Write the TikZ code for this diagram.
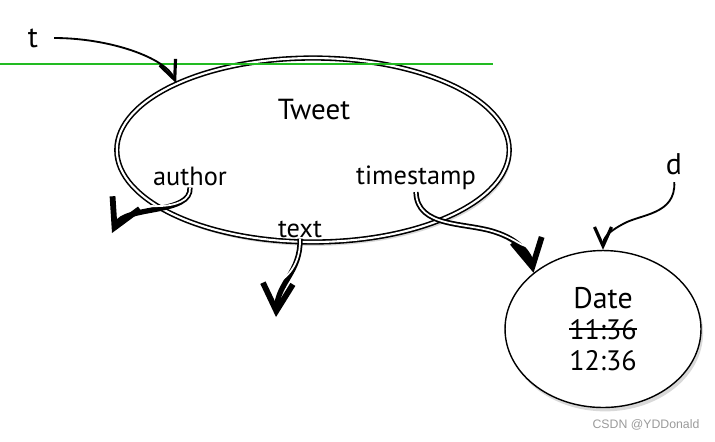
\documentclass[tikz,border=0pt]{standalone}
\usepackage{fontspec}
\setmainfont{PT Sans}
\newfontfamily\markfont{Liberation Sans}
\usetikzlibrary{arrows.meta,positioning,calc,shapes.geometric,shadows}
\definecolor{Guide}{HTML}{22BB22}
\definecolor{Mark}{HTML}{9A9A9A}
\newcommand{\crossout}[1]{\setbox0=\hbox{#1}\rlap{\rule[.33em]{\wd0}{.06em}}\box0}
\tikzset{
  entity/.style={ellipse,draw=black,fill=white,line width=.8pt,inner sep=0pt,drop shadow={opacity=.3,shadow xshift=1.2pt,shadow yshift=-2.2pt}},
  record/.style={entity,double=white,double distance=1.2pt,line width=.9pt},
  field/.style={font=\fontsize{15}{18}\selectfont,inner sep=1pt},
  varname/.style={font=\fontsize{17}{20}\selectfont,inner sep=1pt},
  pointer/.style={-{Straight Barb[length=3.8mm,width=3.4mm,line width=1.8pt]},draw=black,line width=1.05pt},
  ref/.style={-{Straight Barb[length=5.5mm,width=6mm,line width=3.3pt]},draw=black,line width=3pt,
    postaction={draw=white,line width=1pt,-,shorten >=7mm}},
  guide/.style={draw=Guide,line width=.8pt}
}
\begin{document}
\begin{tikzpicture}[x=0.02cm,y=-0.02cm]
  \useasboundingbox (0,0) rectangle (715,441);
  % objects
  \node[record,minimum width=7.85cm,minimum height=3.68cm] (tweet) at (313,150) {};
  \node[entity,minimum width=3.92cm,minimum height=3.14cm,align=center,font=\fontsize{16}{17.8}\selectfont] (date) at (603,329)
    {{\fontsize{17}{17.8}\selectfont Date}\\\crossout{11:36}\\12:36};
  % labels
  \node[font=\fontsize{16.5}{20}\selectfont] (title) at (314,110) {Tweet};
  \node[field] (author) at (190,176) {author};
  \node[field] (stamp) at (416,178) {timestamp};
  \node[field,fill=white,inner sep=.5pt] (body) at (300,229) {text};
  \node[varname] (t) at (33,38) {t};
  \node[varname] (d) at (674,164) {d};
  \coordinate (authorTip) at (112,233);
  \coordinate (bodyTip) at (276,317);
  % guide line
  \draw[guide] (0,64) -- (493,64);
  % references
  \draw[pointer,shorten <=8pt] (t.east) .. controls (110,38) and (166,58) .. (tweet.154);
  \draw[pointer,shorten <=3pt] (d.south) .. controls (676,215) and (640,214) .. (623,224)
    .. controls (608,232) and (603,238) .. (date.north);
  \draw[ref] (author.south) .. controls (192,215) and (125,205) .. (authorTip);
  \draw[ref] (body.south) .. controls (301,272) and (278,282) .. (bodyTip);
  \draw[ref] (stamp.south) .. controls (417,228) and (465,222) .. (495,232)
    .. controls (520,240) and (530,255) .. (date.141);
  % watermark
  \node[font=\markfont\fontsize{7}{8}\selectfont,text=Mark] (mark) at (646,425) {CSDN @YDDonald};
\end{tikzpicture}
\end{document}
